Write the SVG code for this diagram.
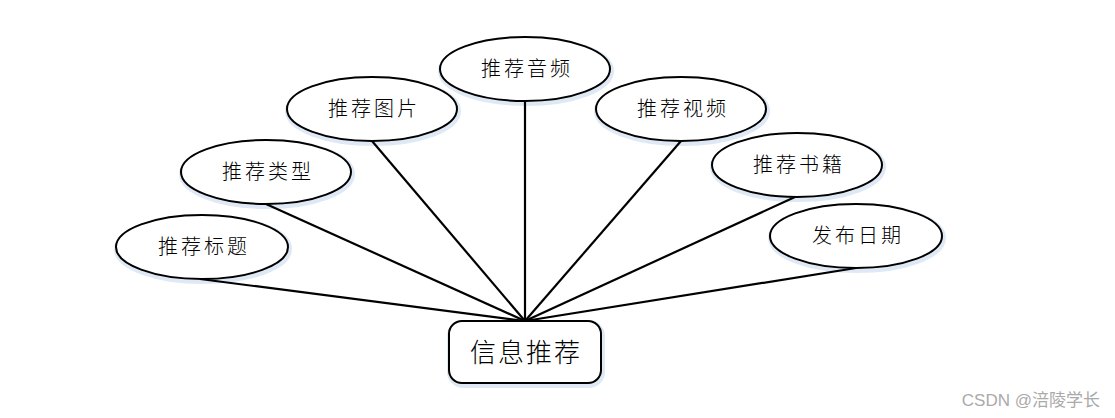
<svg xmlns="http://www.w3.org/2000/svg" width="1115" height="418" viewBox="0 0 1115 418">
<style>
.e{fill:#fff;stroke:#000;stroke-width:2}
.glow{fill:none;stroke:#dfe9f5;stroke-width:6}
.t{font-family:"Noto Sans CJK SC","Noto Sans",sans-serif;font-weight:300;font-size:20px;fill:#000;text-anchor:middle;letter-spacing:3px}
.c line{stroke:#000;stroke-width:2.2}
</style>
<rect width="1115" height="418" fill="#fff"/>
<g id="n1"><ellipse class="glow" cx="203" cy="249" rx="86" ry="32"/><ellipse class="e" cx="202" cy="247" rx="86" ry="32"/><text class="t" x="204" y="254">推荐标题</text></g>
<g id="n2"><ellipse class="glow" cx="267" cy="174" rx="85" ry="32"/><ellipse class="e" cx="266" cy="172" rx="85" ry="32"/><text class="t" x="268" y="179">推荐类型</text></g>
<g id="n3"><ellipse class="glow" cx="373" cy="111" rx="85" ry="32"/><ellipse class="e" cx="372" cy="109" rx="85" ry="32"/><text class="t" x="374" y="116">推荐图片</text></g>
<g id="n4"><ellipse class="glow" cx="526" cy="71" rx="85" ry="32"/><ellipse class="e" cx="525" cy="69" rx="85" ry="32"/><text class="t" x="527" y="76">推荐音频</text></g>
<g id="n5"><ellipse class="glow" cx="682" cy="111" rx="85" ry="32"/><ellipse class="e" cx="681" cy="109" rx="85" ry="32"/><text class="t" x="683" y="116">推荐视频</text></g>
<g id="n6"><ellipse class="glow" cx="798" cy="167" rx="85" ry="32"/><ellipse class="e" cx="797" cy="165" rx="85" ry="32"/><text class="t" x="799" y="172">推荐书籍</text></g>
<g id="n7"><ellipse class="glow" cx="857" cy="238" rx="86" ry="32"/><ellipse class="e" cx="856" cy="236" rx="86" ry="32"/><text class="t" x="858" y="243">发布日期</text></g>
<g id="center"><rect class="glow" x="450" y="323" width="152" height="62" rx="13"/><rect class="e" x="449" y="321" width="152" height="62" rx="13"/><text class="t" x="526" y="362" style="font-size:26px;letter-spacing:2px">信息推荐</text></g>
<g class="c" id="connectors">
<line x1="200" y1="279" x2="525" y2="321"/>
<line x1="266" y1="204" x2="525" y2="321"/>
<line x1="372" y1="141" x2="525" y2="321"/>
<line x1="525" y1="101" x2="525" y2="321"/>
<line x1="681" y1="141" x2="525" y2="321"/>
<line x1="795" y1="197" x2="525" y2="321"/>
<line x1="856" y1="268" x2="525" y2="321"/>
</g>
<text x="1100" y="406" style="font-family:'Liberation Sans','Noto Sans CJK SC',sans-serif;font-size:17px;fill:#aaa;text-anchor:end">CSDN @涪陵学长</text>
</svg>
